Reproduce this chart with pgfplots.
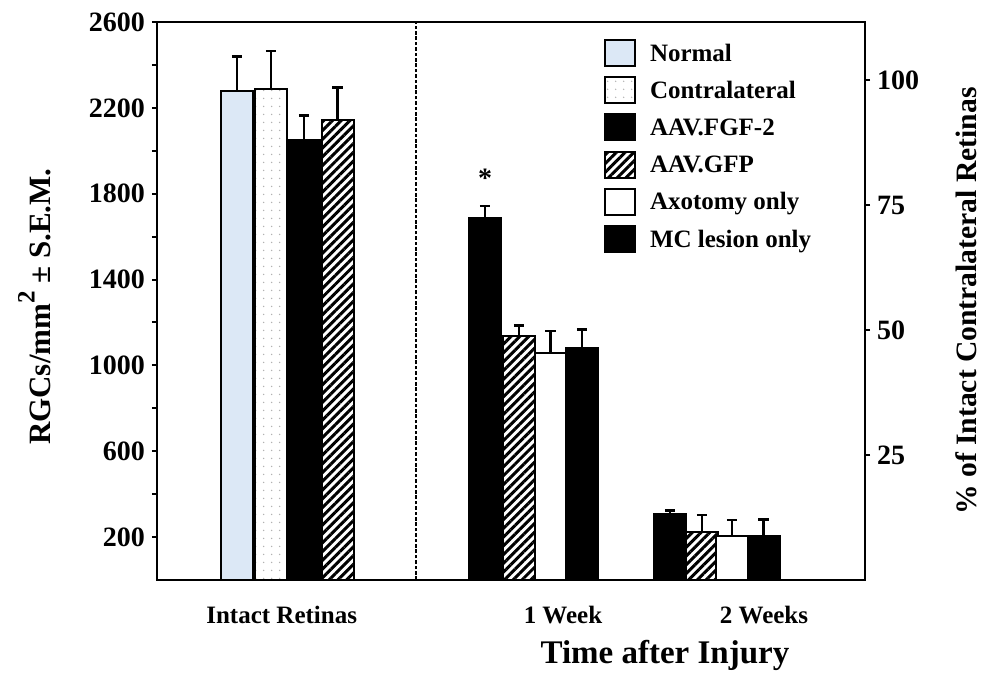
\documentclass[border=0pt]{standalone}
\usepackage{fontspec}
\setmainfont{Liberation Serif}
\usepackage{pgfplots}
\pgfplotsset{compat=1.18}
\usetikzlibrary{patterns.meta}
\definecolor{normalblue}{RGB}{220,232,246}

\begin{document}
\begin{tikzpicture}
\pgfplotsset{
  barstyle/.style={draw=black, line width=1pt, bar shift=0pt, bar width=32,
    legend image code/.code={%
      \pgfpathrectangle{\pgfpoint{0pt}{-9.3pt}}{\pgfpoint{22.5pt}{18.6pt}}%
      \pgfusepath{use as bounding box}%
      \draw[##1, line width=1pt] (0pt,-5.4pt) rectangle (15pt,7.6pt);},
    error bars/y dir=plus, error bars/y explicit,
    error bars/error bar style={line width=1.3pt, black, solid},
    error bars/error mark options={rotate=90, line width=1.3pt, mark size=2.6pt, black, solid}},
}
\begin{axis}[
  name=main,
  scale only axis, width=354pt, height=279pt,
  xmin=157, xmax=865, ymin=0, ymax=2600,
  axis line style={line width=1.3pt},
  ytick={200,600,1000,1400,1800,2200,2600},
  minor ytick={400,800,1200,1600,2000,2400},
  ytick pos=left,
  tick align=outside,
  major tick length=2.5pt, minor tick length=2.5pt,
  ytick style={line width=1pt, black},
  yticklabel style={font=\bfseries\fontsize{14}{14}\selectfont},
  /pgf/number format/assume math mode=true,
  /pgf/number format/1000 sep={},
  xtick={281.7,563,764},
  xticklabels={Intact Retinas,1 Week,2 Weeks},
  xtick style={draw=none},
  xticklabel style={font=\bfseries\fontsize{12.5}{12.5}\selectfont, anchor=base, yshift=-19pt},
  ylabel={RGCs/mm\raisebox{0.5em}{\fontsize{12.5}{12.5}\selectfont 2} ± S.E.M.},
  every axis y label/.style={at={(rel axis cs:-0.1511,0.490)}, rotate=90, anchor=base,
    font=\bfseries\fontsize{15.5}{15.5}\selectfont},
  xlabel={Time after Injury},
  every axis x label/.style={at={(rel axis cs:0.7175,-0.1493)}, anchor=base,
    font=\bfseries\fontsize{16.5}{16.5}\selectfont},
  legend style={at={(rel axis cs:0.6328,0.974)}, anchor=north west, draw=none, fill=none,
    inner sep=0pt, outer sep=0pt, row sep=0pt, column sep=0pt,
    nodes={inner sep=0pt, outer sep=0pt, text height=9pt, text depth=3pt, font=\bfseries\fontsize{12.5}{12.5}\selectfont}},
  legend cell align=left,
]
\addplot[ybar, barstyle, fill=normalblue] coordinates {(237,2280) +- (0,160)};
\addlegendentry{Normal}
\addplot[ybar, barstyle, pattern={Dots[distance=4pt, radius=0.45pt]}, pattern color=gray!60] coordinates {(271,2290) +- (0,175)};
\addlegendentry{Contralateral}
\addplot[ybar, barstyle, fill=black] coordinates {(304,2050) +- (0,115) (485,1688) +- (0,55) (670,306) +- (0,19)};
\addlegendentry{AAV.FGF-2}
\addplot[ybar, barstyle, pattern={Lines[angle=45, distance=3.1pt, line width=1.5pt]}, pattern color=black] coordinates {(337.5,2145) +- (0,150) (519,1137) +- (0,48) (702,225) +- (0,78)};
\addlegendentry{AAV.GFP}
\addplot[ybar, barstyle, fill=white] coordinates {(550.5,1056) +- (0,104) (732,204) +- (0,76)};
\addlegendentry{Axotomy only}
\addplot[ybar, barstyle, fill=black] coordinates {(582,1083) +- (0,84) (763.5,207) +- (0,76)};
\addlegendentry{MC lesion only}
\addplot[forget plot, black, line width=1pt, dash pattern=on 1.8pt off 0.9pt] coordinates {(415.7,0) (415.7,2600)};
\node[font=\bfseries\fontsize{14}{14}\selectfont] at (axis cs:485,1870) {*};
\end{axis}
\begin{axis}[
  scale only axis, width=354pt, height=279pt,
  at={(main.south west)}, anchor=south west,
  xmin=157, xmax=865, ymin=0, ymax=111.6,
  axis x line=none, axis y line*=right,
  axis line style={-, line width=1.3pt},
  ytick={25,50,75,100},
  tick align=outside, major tick length=2.5pt,
  ytick style={line width=1pt, black},
  yticklabel style={font=\bfseries\fontsize{14}{14}\selectfont},
  /pgf/number format/assume math mode=true,
  ylabel={\% of Intact Contralateral Retinas},
  every axis y label/.style={at={(rel axis cs:1.1568,0.5)}, rotate=90, anchor=base,
    font=\bfseries\fontsize{14.8}{14.8}\selectfont},
]
\end{axis}
\pgfresetboundingbox
\path (main.south west) ++(-78.5pt,-50.5pt) rectangle ++(492.5pt,340.5pt);
\end{tikzpicture}
\end{document}
